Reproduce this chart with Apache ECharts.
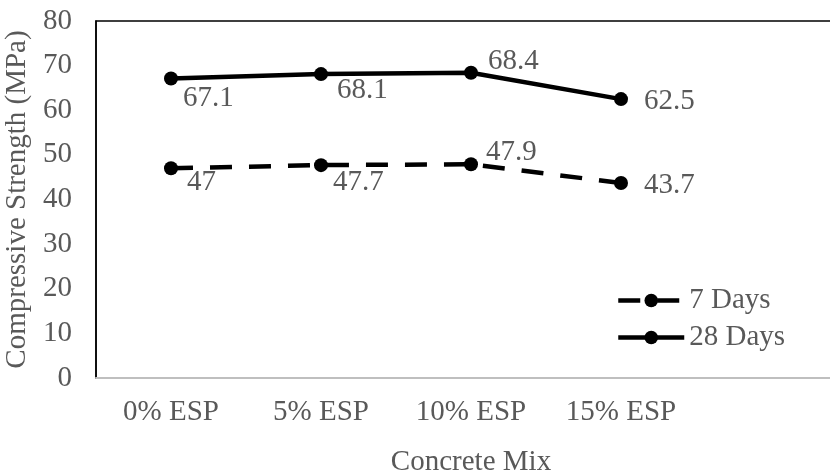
<!DOCTYPE html>
<html>
<head>
<meta charset="utf-8">
<script src="https://cdn.jsdelivr.net/npm/echarts@6/dist/echarts.min.js"></script>
<style>
html, body { margin: 0; padding: 0; background: #fff; }
#box { width: 830px; height: 474px; }
</style>
</head>
<body>
<div id="box"></div>
<script>
// data
const categories = ["0% ESP", "5% ESP", "10% ESP", "15% ESP"]
const days7 = [47, 47.7, 47.9, 43.7]
const days28 = [67.1, 68.1, 68.4, 62.5]
const yTicks = [0, 10, 20, 30, 40, 50, 60, 70, 80]

// label offsets (style only)
const off7 = [[4, 14], [0, 17], [3, -12], [11, 2]]
const off28 = [[0, 20], [4, 16], [5, -11], [11, 2]]

const font = "Liberation Serif"
const grey = "#595959"
const fs = 29

function withLabels(values, offsets) {
	return values.map((v, i) => ({
		value: v,
		label: { position: "right", offset: offsets[i] },
	}))
}

let myCharts = echarts.init(document.getElementById("box"))
let option = {
	animation: false,
	grid: {
		left: 96,
		top: 21,
		bottom: 96,
		right: -16,
		outerBoundsMode: "none",
		containLabel: false,
		show: true,
		borderColor: "#000",
		borderWidth: 1.5,
	},
	legend: {
		orient: "vertical",
		left: 611,
		top: 281,
		itemWidth: 66,
		itemHeight: 17,
		itemGap: 8,
		lineStyle: { width: 4.5 },
		textStyle: { fontFamily: font, fontSize: fs, color: grey },
		data: ["7 Days", "28 Days"],
	},
	xAxis: {
		type: "category",
		data: categories.concat([""]),
		boundaryGap: true,
		axisLine: { lineStyle: { color: "#bfbfbf", width: 2 } },
		axisTick: { show: false },
		axisLabel: { fontFamily: font, fontSize: fs, color: grey, margin: 20, interval: 0 },
		name: "Concrete Mix",
		nameLocation: "middle",
		nameGap: 70,
		nameTextStyle: { fontFamily: font, fontSize: fs, color: grey },
	},
	yAxis: {
		type: "value",
		min: yTicks[0],
		max: yTicks[yTicks.length - 1],
		interval: 10,
		splitLine: { show: false },
		axisLine: { show: true, lineStyle: { color: "#000", width: 1.5 } },
		axisTick: { show: false },
		axisLabel: { fontFamily: font, fontSize: fs, color: grey, margin: 24 },
		name: "Compressive Strength (MPa)",
		nameLocation: "middle",
		nameGap: 60,
		nameTextStyle: { fontFamily: font, fontSize: fs, color: grey },
	},
	series: [
		{
			name: "7 Days",
			type: "line",
			data: withLabels(days7, off7),
			symbol: "circle",
			symbolSize: 14,
			itemStyle: { color: "#000" },
			lineStyle: { color: "#000", width: 4.5, type: [22, 17] },
			label: { show: true, fontFamily: font, fontSize: fs, color: grey },
		},
		{
			name: "28 Days",
			type: "line",
			data: withLabels(days28, off28),
			symbol: "circle",
			symbolSize: 14,
			itemStyle: { color: "#000" },
			lineStyle: { color: "#000", width: 4.5 },
			label: { show: true, fontFamily: font, fontSize: fs, color: grey },
		},
	],
}
myCharts.setOption(option)
</script>
</body>
</html>
